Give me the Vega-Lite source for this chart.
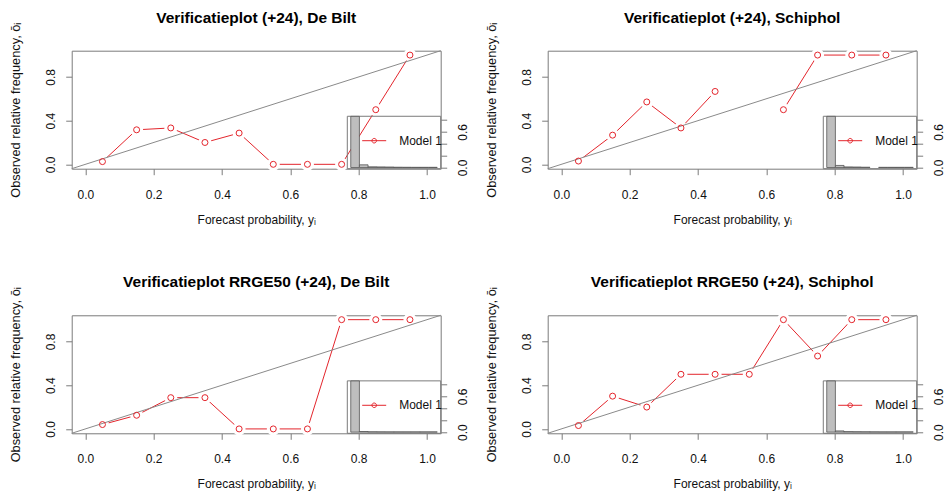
{
  "$schema": "https://vega.github.io/schema/vega-lite/v6.json",
  "autosize": {"type": "pad"},
  "padding": {"left": 9.7, "top": 9.7, "right": 0, "bottom": 0},
  "background": "white",
  "datasets": {
    "diag": [{"x": -0.04, "y": -0.04}, {"x": 1.04, "y": 1.04}],
    "r1": [{"x": 0.05, "y": 0.025}, {"x": 0.15, "y": 0.316}, {"x": 0.25, "y": 0.333}, {"x": 0.35, "y": 0.2}, {"x": 0.45, "y": 0.286}, {"x": 0.55, "y": 0}, {"x": 0.65, "y": 0}, {"x": 0.75, "y": 0}, {"x": 0.85, "y": 0.5}, {"x": 0.95, "y": 1}],
    "r2": [{"x": 0.05, "y": 0.03}, {"x": 0.15, "y": 0.267}, {"x": 0.25, "y": 0.571}, {"x": 0.35, "y": 0.333}, {"x": 0.45, "y": 0.667}, {"x": 0.55, "y": null}, {"x": 0.65, "y": 0.5}, {"x": 0.75, "y": 1}, {"x": 0.85, "y": 1}, {"x": 0.95, "y": 1}],
    "r3": [{"x": 0.05, "y": 0.04}, {"x": 0.15, "y": 0.125}, {"x": 0.25, "y": 0.286}, {"x": 0.35, "y": 0.286}, {"x": 0.45, "y": 0}, {"x": 0.55, "y": 0}, {"x": 0.65, "y": 0}, {"x": 0.75, "y": 1}, {"x": 0.85, "y": 1}, {"x": 0.95, "y": 1}],
    "r4": [{"x": 0.05, "y": 0.031}, {"x": 0.15, "y": 0.3}, {"x": 0.25, "y": 0.2}, {"x": 0.35, "y": 0.5}, {"x": 0.45, "y": 0.5}, {"x": 0.55, "y": 0.5}, {"x": 0.65, "y": 1}, {"x": 0.75, "y": 0.667}, {"x": 0.85, "y": 1}, {"x": 0.95, "y": 1}],
    "h1": [{"b0": 0, "b1": 0.1, "f": 0.86}, {"b0": 0.1, "b1": 0.2, "f": 0.045}, {"b0": 0.2, "b1": 0.3, "f": 0.012}, {"b0": 0.3, "b1": 0.4, "f": 0.01}, {"b0": 0.4, "b1": 0.5, "f": 0.008}, {"b0": 0.5, "b1": 0.6, "f": 0.005}, {"b0": 0.6, "b1": 0.7, "f": 0.004}, {"b0": 0.7, "b1": 0.8, "f": 0.003}, {"b0": 0.8, "b1": 0.9, "f": 0.003}, {"b0": 0.9, "b1": 1.0, "f": 0.003}],
    "h2": [{"b0": 0, "b1": 0.1, "f": 0.86}, {"b0": 0.1, "b1": 0.2, "f": 0.035}, {"b0": 0.2, "b1": 0.3, "f": 0.01}, {"b0": 0.3, "b1": 0.4, "f": 0.008}, {"b0": 0.4, "b1": 0.5, "f": 0.005}, {"b0": 0.6, "b1": 0.7, "f": 0.003}, {"b0": 0.7, "b1": 0.8, "f": 0.003}, {"b0": 0.8, "b1": 0.9, "f": 0.003}, {"b0": 0.9, "b1": 1.0, "f": 0.003}],
    "h3": [{"b0": 0, "b1": 0.1, "f": 0.86}, {"b0": 0.1, "b1": 0.2, "f": 0.01}, {"b0": 0.2, "b1": 0.3, "f": 0.005}, {"b0": 0.3, "b1": 0.4, "f": 0.004}, {"b0": 0.4, "b1": 0.5, "f": 0.003}, {"b0": 0.5, "b1": 0.6, "f": 0.003}, {"b0": 0.6, "b1": 0.7, "f": 0.003}, {"b0": 0.7, "b1": 0.8, "f": 0.003}, {"b0": 0.8, "b1": 0.9, "f": 0.003}, {"b0": 0.9, "b1": 1.0, "f": 0.003}],
    "h4": [{"b0": 0, "b1": 0.1, "f": 0.86}, {"b0": 0.1, "b1": 0.2, "f": 0.02}, {"b0": 0.2, "b1": 0.3, "f": 0.008}, {"b0": 0.3, "b1": 0.4, "f": 0.006}, {"b0": 0.4, "b1": 0.5, "f": 0.005}, {"b0": 0.5, "b1": 0.6, "f": 0.004}, {"b0": 0.6, "b1": 0.7, "f": 0.003}, {"b0": 0.7, "b1": 0.8, "f": 0.003}, {"b0": 0.8, "b1": 0.9, "f": 0.003}, {"b0": 0.9, "b1": 1.0, "f": 0.003}]
  },
  "columns": 2,
  "spacing": {"row": 146.6, "column": 107},
  "bounds": "flush",
  "resolve": {"scale": {"stroke": "independent"}, "legend": {"stroke": "independent"}},
  "concat": [
    {
      "width": 369, "height": 118,
      "title": "Verificatieplot (+24), De Bilt",
      "layer": [
        {"layer": [
          {"data": {"name": "r1"}, "mark": {"type": "line", "strokeWidth": 1, "invalid": "break-paths-show-domains"},
           "encoding": {
             "x": {"field": "x", "type": "quantitative", "scale": {"domain": [-0.04, 1.04], "nice": false, "zero": false}, "axis": {"values": [0, 0.2, 0.4, 0.6, 0.8, 1], "format": ".1f", "title": "Forecast probability, yᵢ", "labelPadding": 14.5, "labelBaseline": "top", "labelFlush": false, "labelOverlap": false, "titlePadding": 14}},
             "y": {"field": "y", "type": "quantitative", "scale": {"domain": [-0.04, 1.04], "nice": false, "zero": false}, "axis": {"values": [0, 0.2, 0.4, 0.6, 0.8, 1], "labelExpr": "abs(datum.value) < 0.01 || abs(datum.value - 0.4) < 0.01 || abs(datum.value - 0.8) < 0.01 ? format(datum.value, '.1f') : ''", "labelAngle": -90, "labelAlign": "center", "labelBaseline": "alphabetic", "labelPadding": 11.4, "labelFlush": false, "labelOverlap": false, "title": "Observed relative frequency, ōᵢ", "titleFontSize": 12.8, "titlePadding": 21.5}},
             "stroke": {"datum": "Model 1", "type": "nominal", "scale": {"range": ["#e3242b"]}, "legend": {"orient": "none", "legendX": 290, "legendY": 77.5, "title": null, "padding": 0, "symbolType": "M-1,0H1M-0.19,0A0.19,0.19,0,1,1,0.19,0A0.19,0.19,0,1,1,-0.19,0", "symbolSize": 576, "symbolStrokeWidth": 1, "symbolFillColor": "transparent", "labelFontSize": 12, "labelOffset": 12.5, "labelColor": "#111111", "labelFont": "Liberation Sans"}}
           }},
          {"data": {"name": "r1"}, "mark": {"type": "circle", "size": 170, "fill": "white", "opacity": 1, "stroke": null},
           "encoding": {"x": {"field": "x", "type": "quantitative"}, "y": {"field": "y", "type": "quantitative"}}},
          {"data": {"name": "diag"}, "mark": {"type": "line", "stroke": "#8a8a8a", "strokeWidth": 1},
           "encoding": {"x": {"field": "x", "type": "quantitative"}, "y": {"field": "y", "type": "quantitative"}}},
          {"data": {"name": "r1"}, "mark": {"type": "point", "shape": "circle", "filled": false, "stroke": "#e3242b", "strokeWidth": 1, "size": 36, "opacity": 1},
           "encoding": {"x": {"field": "x", "type": "quantitative"}, "y": {"field": "y", "type": "quantitative"}}}
        ]},
        {"layer": [
          {"data": {"values": [{}]}, "mark": {"type": "rect", "fillOpacity": 0, "stroke": "#7a7a7a", "strokeWidth": 1},
           "encoding": {
             "x": {"datum": -0.04, "type": "quantitative", "scale": {"domain": [-3.227, 1.04], "nice": false, "zero": false}, "axis": {"orient": "top", "ticks": false, "labels": false, "title": null, "domain": true}},
             "x2": {"datum": 1.04},
             "y": {"datum": -0.02, "type": "quantitative", "scale": {"domain": [-0.02, 1.963], "nice": false, "zero": false}, "axis": {"orient": "right", "values": [0, 0.2, 0.4, 0.6, 0.8], "labelExpr": "abs(datum.value) < 0.01 || abs(datum.value - 0.6) < 0.01 ? format(datum.value, '.1f') : ''", "labelAngle": -90, "labelAlign": "center", "labelBaseline": "top", "labelPadding": 10.4, "labelFlush": false, "labelOverlap": false, "title": null}},
             "y2": {"datum": 0.861}
           }},
          {"data": {"name": "h1"}, "mark": {"type": "bar", "fill": "#bebebe", "stroke": "#555555", "strokeWidth": 0.8},
           "encoding": {
             "x": {"field": "b0", "type": "quantitative", "axis": {"orient": "top", "ticks": false, "labels": false, "title": null, "domain": true}},
             "x2": {"field": "b1"},
             "y": {"field": "f", "type": "quantitative", "axis": {"orient": "right", "values": [0, 0.2, 0.4, 0.6, 0.8], "labelExpr": "abs(datum.value) < 0.01 || abs(datum.value - 0.6) < 0.01 ? format(datum.value, '.1f') : ''", "labelAngle": -90, "labelAlign": "center", "labelBaseline": "top", "labelPadding": 10.4, "labelFlush": false, "labelOverlap": false, "title": null}},
             "y2": {"datum": 0}}}
        ]}
      ],
      "resolve": {"scale": {"x": "independent", "y": "independent"}}
    },
    {
      "width": 369, "height": 118,
      "title": "Verificatieplot (+24), Schiphol",
      "layer": [
        {"layer": [
          {"data": {"name": "r2"}, "mark": {"type": "line", "strokeWidth": 1, "invalid": "break-paths-show-domains"},
           "encoding": {
             "x": {"field": "x", "type": "quantitative", "scale": {"domain": [-0.04, 1.04], "nice": false, "zero": false}, "axis": {"values": [0, 0.2, 0.4, 0.6, 0.8, 1], "format": ".1f", "title": "Forecast probability, yᵢ", "labelPadding": 14.5, "labelBaseline": "top", "labelFlush": false, "labelOverlap": false, "titlePadding": 14}},
             "y": {"field": "y", "type": "quantitative", "scale": {"domain": [-0.04, 1.04], "nice": false, "zero": false}, "axis": {"values": [0, 0.2, 0.4, 0.6, 0.8, 1], "labelExpr": "abs(datum.value) < 0.01 || abs(datum.value - 0.4) < 0.01 || abs(datum.value - 0.8) < 0.01 ? format(datum.value, '.1f') : ''", "labelAngle": -90, "labelAlign": "center", "labelBaseline": "alphabetic", "labelPadding": 11.4, "labelFlush": false, "labelOverlap": false, "title": "Observed relative frequency, ōᵢ", "titleFontSize": 12.8, "titlePadding": 21.5}},
             "stroke": {"datum": "Model 1", "type": "nominal", "scale": {"range": ["#e3242b"]}, "legend": {"orient": "none", "legendX": 290, "legendY": 77.5, "title": null, "padding": 0, "symbolType": "M-1,0H1M-0.19,0A0.19,0.19,0,1,1,0.19,0A0.19,0.19,0,1,1,-0.19,0", "symbolSize": 576, "symbolStrokeWidth": 1, "symbolFillColor": "transparent", "labelFontSize": 12, "labelOffset": 12.5, "labelColor": "#111111", "labelFont": "Liberation Sans"}}
           }},
          {"data": {"name": "r2"}, "mark": {"type": "circle", "size": 170, "fill": "white", "opacity": 1, "stroke": null},
           "encoding": {"x": {"field": "x", "type": "quantitative"}, "y": {"field": "y", "type": "quantitative"}}},
          {"data": {"name": "diag"}, "mark": {"type": "line", "stroke": "#8a8a8a", "strokeWidth": 1},
           "encoding": {"x": {"field": "x", "type": "quantitative"}, "y": {"field": "y", "type": "quantitative"}}},
          {"data": {"name": "r2"}, "mark": {"type": "point", "shape": "circle", "filled": false, "stroke": "#e3242b", "strokeWidth": 1, "size": 36, "opacity": 1},
           "encoding": {"x": {"field": "x", "type": "quantitative"}, "y": {"field": "y", "type": "quantitative"}}}
        ]},
        {"layer": [
          {"data": {"values": [{}]}, "mark": {"type": "rect", "fillOpacity": 0, "stroke": "#7a7a7a", "strokeWidth": 1},
           "encoding": {
             "x": {"datum": -0.04, "type": "quantitative", "scale": {"domain": [-3.227, 1.04], "nice": false, "zero": false}, "axis": {"orient": "top", "ticks": false, "labels": false, "title": null, "domain": true}},
             "x2": {"datum": 1.04},
             "y": {"datum": -0.02, "type": "quantitative", "scale": {"domain": [-0.02, 1.963], "nice": false, "zero": false}, "axis": {"orient": "right", "values": [0, 0.2, 0.4, 0.6, 0.8], "labelExpr": "abs(datum.value) < 0.01 || abs(datum.value - 0.6) < 0.01 ? format(datum.value, '.1f') : ''", "labelAngle": -90, "labelAlign": "center", "labelBaseline": "top", "labelPadding": 10.4, "labelFlush": false, "labelOverlap": false, "title": null}},
             "y2": {"datum": 0.861}
           }},
          {"data": {"name": "h2"}, "mark": {"type": "bar", "fill": "#bebebe", "stroke": "#555555", "strokeWidth": 0.8},
           "encoding": {
             "x": {"field": "b0", "type": "quantitative", "axis": {"orient": "top", "ticks": false, "labels": false, "title": null, "domain": true}},
             "x2": {"field": "b1"},
             "y": {"field": "f", "type": "quantitative", "axis": {"orient": "right", "values": [0, 0.2, 0.4, 0.6, 0.8], "labelExpr": "abs(datum.value) < 0.01 || abs(datum.value - 0.6) < 0.01 ? format(datum.value, '.1f') : ''", "labelAngle": -90, "labelAlign": "center", "labelBaseline": "top", "labelPadding": 10.4, "labelFlush": false, "labelOverlap": false, "title": null}},
             "y2": {"datum": 0}}}
        ]}
      ],
      "resolve": {"scale": {"x": "independent", "y": "independent"}}
    },
    {
      "width": 369, "height": 118,
      "title": "Verificatieplot RRGE50 (+24), De Bilt",
      "layer": [
        {"layer": [
          {"data": {"name": "r3"}, "mark": {"type": "line", "strokeWidth": 1, "invalid": "break-paths-show-domains"},
           "encoding": {
             "x": {"field": "x", "type": "quantitative", "scale": {"domain": [-0.04, 1.04], "nice": false, "zero": false}, "axis": {"values": [0, 0.2, 0.4, 0.6, 0.8, 1], "format": ".1f", "title": "Forecast probability, yᵢ", "labelPadding": 14.5, "labelBaseline": "top", "labelFlush": false, "labelOverlap": false, "titlePadding": 14}},
             "y": {"field": "y", "type": "quantitative", "scale": {"domain": [-0.04, 1.04], "nice": false, "zero": false}, "axis": {"values": [0, 0.2, 0.4, 0.6, 0.8, 1], "labelExpr": "abs(datum.value) < 0.01 || abs(datum.value - 0.4) < 0.01 || abs(datum.value - 0.8) < 0.01 ? format(datum.value, '.1f') : ''", "labelAngle": -90, "labelAlign": "center", "labelBaseline": "alphabetic", "labelPadding": 11.4, "labelFlush": false, "labelOverlap": false, "title": "Observed relative frequency, ōᵢ", "titleFontSize": 12.8, "titlePadding": 21.5}},
             "stroke": {"datum": "Model 1", "type": "nominal", "scale": {"range": ["#e3242b"]}, "legend": {"orient": "none", "legendX": 290, "legendY": 77.5, "title": null, "padding": 0, "symbolType": "M-1,0H1M-0.19,0A0.19,0.19,0,1,1,0.19,0A0.19,0.19,0,1,1,-0.19,0", "symbolSize": 576, "symbolStrokeWidth": 1, "symbolFillColor": "transparent", "labelFontSize": 12, "labelOffset": 12.5, "labelColor": "#111111", "labelFont": "Liberation Sans"}}
           }},
          {"data": {"name": "r3"}, "mark": {"type": "circle", "size": 170, "fill": "white", "opacity": 1, "stroke": null},
           "encoding": {"x": {"field": "x", "type": "quantitative"}, "y": {"field": "y", "type": "quantitative"}}},
          {"data": {"name": "diag"}, "mark": {"type": "line", "stroke": "#8a8a8a", "strokeWidth": 1},
           "encoding": {"x": {"field": "x", "type": "quantitative"}, "y": {"field": "y", "type": "quantitative"}}},
          {"data": {"name": "r3"}, "mark": {"type": "point", "shape": "circle", "filled": false, "stroke": "#e3242b", "strokeWidth": 1, "size": 36, "opacity": 1},
           "encoding": {"x": {"field": "x", "type": "quantitative"}, "y": {"field": "y", "type": "quantitative"}}}
        ]},
        {"layer": [
          {"data": {"values": [{}]}, "mark": {"type": "rect", "fillOpacity": 0, "stroke": "#7a7a7a", "strokeWidth": 1},
           "encoding": {
             "x": {"datum": -0.04, "type": "quantitative", "scale": {"domain": [-3.227, 1.04], "nice": false, "zero": false}, "axis": {"orient": "top", "ticks": false, "labels": false, "title": null, "domain": true}},
             "x2": {"datum": 1.04},
             "y": {"datum": -0.02, "type": "quantitative", "scale": {"domain": [-0.02, 1.963], "nice": false, "zero": false}, "axis": {"orient": "right", "values": [0, 0.2, 0.4, 0.6, 0.8], "labelExpr": "abs(datum.value) < 0.01 || abs(datum.value - 0.6) < 0.01 ? format(datum.value, '.1f') : ''", "labelAngle": -90, "labelAlign": "center", "labelBaseline": "top", "labelPadding": 10.4, "labelFlush": false, "labelOverlap": false, "title": null}},
             "y2": {"datum": 0.861}
           }},
          {"data": {"name": "h3"}, "mark": {"type": "bar", "fill": "#bebebe", "stroke": "#555555", "strokeWidth": 0.8},
           "encoding": {
             "x": {"field": "b0", "type": "quantitative", "axis": {"orient": "top", "ticks": false, "labels": false, "title": null, "domain": true}},
             "x2": {"field": "b1"},
             "y": {"field": "f", "type": "quantitative", "axis": {"orient": "right", "values": [0, 0.2, 0.4, 0.6, 0.8], "labelExpr": "abs(datum.value) < 0.01 || abs(datum.value - 0.6) < 0.01 ? format(datum.value, '.1f') : ''", "labelAngle": -90, "labelAlign": "center", "labelBaseline": "top", "labelPadding": 10.4, "labelFlush": false, "labelOverlap": false, "title": null}},
             "y2": {"datum": 0}}}
        ]}
      ],
      "resolve": {"scale": {"x": "independent", "y": "independent"}}
    },
    {
      "width": 369, "height": 118,
      "title": "Verificatieplot RRGE50 (+24), Schiphol",
      "layer": [
        {"layer": [
          {"data": {"name": "r4"}, "mark": {"type": "line", "strokeWidth": 1, "invalid": "break-paths-show-domains"},
           "encoding": {
             "x": {"field": "x", "type": "quantitative", "scale": {"domain": [-0.04, 1.04], "nice": false, "zero": false}, "axis": {"values": [0, 0.2, 0.4, 0.6, 0.8, 1], "format": ".1f", "title": "Forecast probability, yᵢ", "labelPadding": 14.5, "labelBaseline": "top", "labelFlush": false, "labelOverlap": false, "titlePadding": 14}},
             "y": {"field": "y", "type": "quantitative", "scale": {"domain": [-0.04, 1.04], "nice": false, "zero": false}, "axis": {"values": [0, 0.2, 0.4, 0.6, 0.8, 1], "labelExpr": "abs(datum.value) < 0.01 || abs(datum.value - 0.4) < 0.01 || abs(datum.value - 0.8) < 0.01 ? format(datum.value, '.1f') : ''", "labelAngle": -90, "labelAlign": "center", "labelBaseline": "alphabetic", "labelPadding": 11.4, "labelFlush": false, "labelOverlap": false, "title": "Observed relative frequency, ōᵢ", "titleFontSize": 12.8, "titlePadding": 21.5}},
             "stroke": {"datum": "Model 1", "type": "nominal", "scale": {"range": ["#e3242b"]}, "legend": {"orient": "none", "legendX": 290, "legendY": 77.5, "title": null, "padding": 0, "symbolType": "M-1,0H1M-0.19,0A0.19,0.19,0,1,1,0.19,0A0.19,0.19,0,1,1,-0.19,0", "symbolSize": 576, "symbolStrokeWidth": 1, "symbolFillColor": "transparent", "labelFontSize": 12, "labelOffset": 12.5, "labelColor": "#111111", "labelFont": "Liberation Sans"}}
           }},
          {"data": {"name": "r4"}, "mark": {"type": "circle", "size": 170, "fill": "white", "opacity": 1, "stroke": null},
           "encoding": {"x": {"field": "x", "type": "quantitative"}, "y": {"field": "y", "type": "quantitative"}}},
          {"data": {"name": "diag"}, "mark": {"type": "line", "stroke": "#8a8a8a", "strokeWidth": 1},
           "encoding": {"x": {"field": "x", "type": "quantitative"}, "y": {"field": "y", "type": "quantitative"}}},
          {"data": {"name": "r4"}, "mark": {"type": "point", "shape": "circle", "filled": false, "stroke": "#e3242b", "strokeWidth": 1, "size": 36, "opacity": 1},
           "encoding": {"x": {"field": "x", "type": "quantitative"}, "y": {"field": "y", "type": "quantitative"}}}
        ]},
        {"layer": [
          {"data": {"values": [{}]}, "mark": {"type": "rect", "fillOpacity": 0, "stroke": "#7a7a7a", "strokeWidth": 1},
           "encoding": {
             "x": {"datum": -0.04, "type": "quantitative", "scale": {"domain": [-3.227, 1.04], "nice": false, "zero": false}, "axis": {"orient": "top", "ticks": false, "labels": false, "title": null, "domain": true}},
             "x2": {"datum": 1.04},
             "y": {"datum": -0.02, "type": "quantitative", "scale": {"domain": [-0.02, 1.963], "nice": false, "zero": false}, "axis": {"orient": "right", "values": [0, 0.2, 0.4, 0.6, 0.8], "labelExpr": "abs(datum.value) < 0.01 || abs(datum.value - 0.6) < 0.01 ? format(datum.value, '.1f') : ''", "labelAngle": -90, "labelAlign": "center", "labelBaseline": "top", "labelPadding": 10.4, "labelFlush": false, "labelOverlap": false, "title": null}},
             "y2": {"datum": 0.861}
           }},
          {"data": {"name": "h4"}, "mark": {"type": "bar", "fill": "#bebebe", "stroke": "#555555", "strokeWidth": 0.8},
           "encoding": {
             "x": {"field": "b0", "type": "quantitative", "axis": {"orient": "top", "ticks": false, "labels": false, "title": null, "domain": true}},
             "x2": {"field": "b1"},
             "y": {"field": "f", "type": "quantitative", "axis": {"orient": "right", "values": [0, 0.2, 0.4, 0.6, 0.8], "labelExpr": "abs(datum.value) < 0.01 || abs(datum.value - 0.6) < 0.01 ? format(datum.value, '.1f') : ''", "labelAngle": -90, "labelAlign": "center", "labelBaseline": "top", "labelPadding": 10.4, "labelFlush": false, "labelOverlap": false, "title": null}},
             "y2": {"datum": 0}}}
        ]}
      ],
      "resolve": {"scale": {"x": "independent", "y": "independent"}}
    }
  ],
  "config": {
    "font": "Liberation Sans",
    "view": {"stroke": null},
    "axis": {"grid": false, "labelOverlap": false, "labelFont": "Liberation Sans", "labelFontSize": 12, "labelColor": "#111111", "titleFont": "Liberation Sans", "titleFontSize": 12, "titleFontWeight": "normal", "titleColor": "#111111", "tickColor": "#7a7a7a", "domainColor": "#7a7a7a", "tickSize": 6, "tickWidth": 1, "domainWidth": 1, "zindex": 1},
    "title": {"font": "Liberation Sans", "fontSize": 15.5, "fontWeight": "bold", "color": "#000000", "anchor": "middle", "frame": "group", "baseline": "alphabetic", "offset": -4}
  }
}
